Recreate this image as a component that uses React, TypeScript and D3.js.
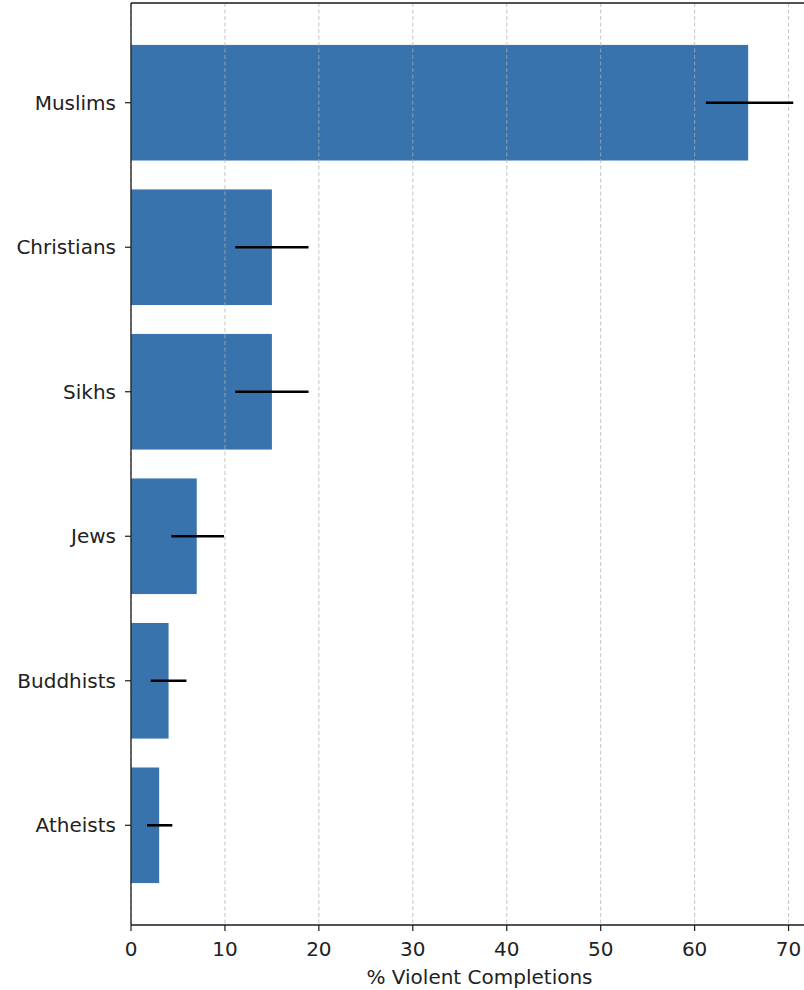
import React from "react";
import * as d3 from "d3";

const categories = ["Muslims", "Christians", "Sikhs", "Jews", "Buddhists", "Atheists"];
const values = [65.7, 15.0, 15.0, 7.0, 4.0, 3.0];
const errLow = [61.2, 11.1, 11.1, 4.3, 2.1, 1.7];
const errHigh = [70.5, 18.9, 18.9, 9.9, 5.9, 4.4];
const xTicks = [0, 10, 20, 30, 40, 50, 60, 70];
const xLabel = "% Violent Completions";

const W = 804;
const H = 990;
const left = 131;
const top = 3;
const bottom = 925;
const right = 828;

export default function App() {
  const x = d3.scaleLinear().domain([0, 74.2]).range([left, right]);
  const y = d3
    .scaleBand<string>()
    .domain(categories)
    .range([top, bottom])
    .paddingInner(0.2)
    .paddingOuter(0.29);
  const font = "DejaVu Sans, sans-serif";
  return (
    <svg
      width={W}
      height={H}
      style={{ position: "absolute", left: 0, top: 0, background: "#fff" }}
      fontFamily={font}
    >
      <rect x={0} y={0} width={W} height={H} fill="#fff" />
      {categories.map((c, i) => (
        <rect
          key={c}
          x={x(0)}
          y={y(c)}
          width={x(values[i]) - x(0)}
          height={y.bandwidth()}
          fill="#3873ad"
        />
      ))}
      {xTicks.map((t) => (
        <line
          key={"g" + t}
          x1={x(t)}
          x2={x(t)}
          y1={top}
          y2={bottom}
          stroke="#b0b0b0"
          strokeOpacity={0.75}
          strokeWidth={1}
          strokeDasharray="4,2.5"
        />
      ))}
      {categories.map((c, i) => {
        const cy = (y(c) as number) + y.bandwidth() / 2;
        return (
          <line
            key={"e" + c}
            x1={x(errLow[i])}
            x2={x(errHigh[i])}
            y1={cy}
            y2={cy}
            stroke="#000"
            strokeWidth={2.6}
          />
        );
      })}
      {/* spines */}
      <line x1={left} x2={left} y1={top} y2={bottom} stroke="#1a1a1a" strokeWidth={1.3} />
      <line x1={left} x2={W} y1={top} y2={top} stroke="#1a1a1a" strokeWidth={1.3} />
      <line x1={left} x2={W} y1={bottom} y2={bottom} stroke="#1a1a1a" strokeWidth={1.3} />
      {/* y ticks */}
      {categories.map((c) => {
        const cy = (y(c) as number) + y.bandwidth() / 2;
        return (
          <g key={"yt" + c}>
            <line x1={left - 6} x2={left} y1={cy} y2={cy} stroke="#1a1a1a" strokeWidth={1.2} />
            <text
              x={left - 15}
              y={cy}
              textAnchor="end"
              dominantBaseline="central"
              fontSize={20}
              fill="#222"
            >
              {c}
            </text>
          </g>
        );
      })}
      {/* x ticks */}
      {xTicks.map((t) => (
        <g key={"xt" + t}>
          <line x1={x(t)} x2={x(t)} y1={bottom} y2={bottom + 6} stroke="#1a1a1a" strokeWidth={1.2} />
          <text
            x={x(t)}
            y={bottom + 24}
            textAnchor="middle"
            dominantBaseline="central"
            fontSize={20}
            fill="#222"
          >
            {t}
          </text>
        </g>
      ))}
      <text
        x={(left + right) / 2}
        y={977}
        textAnchor="middle"
        dominantBaseline="central"
        fontSize={20}
        fill="#222"
      >
        {xLabel}
      </text>
    </svg>
  );
}
